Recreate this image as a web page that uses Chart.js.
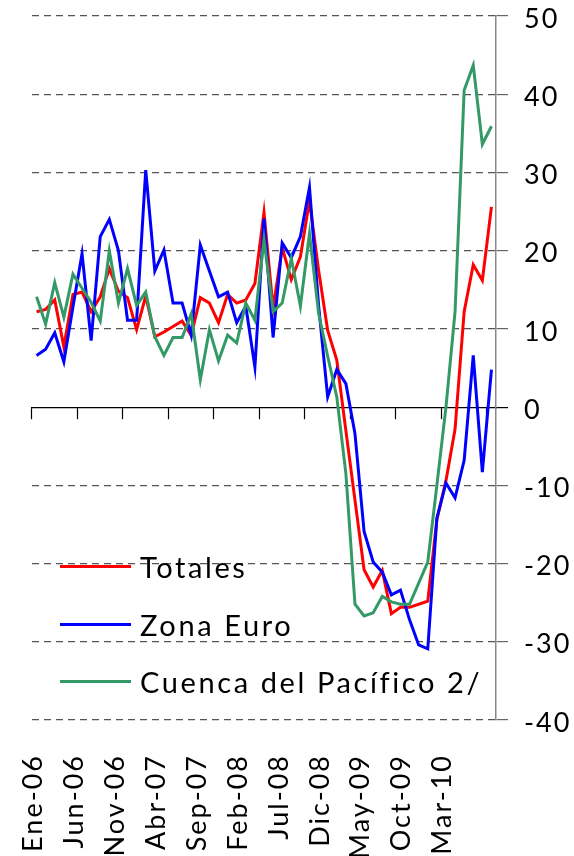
<!DOCTYPE html>
<html>
<head>
<meta charset="utf-8">
<script src="https://cdn.jsdelivr.net/npm/chart.js@4"></script>
<style>
    html, body { margin: 0; padding: 0; background: #fff; }
    #wrap { position: relative; width: 574px; height: 856px; }
    #legend { position: absolute; left: 60px; top: 538px; font-family: Lato, sans-serif; font-size: 29px; letter-spacing: 2.6px; color: #000; }
    .row { display: flex; align-items: center; height: 57.5px; white-space: nowrap; }
    .swatch { width: 71px; height: 3px; margin-right: 9px; }
</style>
</head>
<body>
<div id="wrap">
    <canvas id="chart" width="574" height="856"></canvas>
    <div id="legend"></div>
</div>
<script>
const months = [
    'Ene-06','Feb-06','Mar-06','Abr-06','May-06','Jun-06','Jul-06','Ago-06','Sep-06','Oct-06','Nov-06','Dic-06',
    'Ene-07','Feb-07','Mar-07','Abr-07','May-07','Jun-07','Jul-07','Ago-07','Sep-07','Oct-07','Nov-07','Dic-07',
    'Ene-08','Feb-08','Mar-08','Abr-08','May-08','Jun-08','Jul-08','Ago-08','Sep-08','Oct-08','Nov-08','Dic-08',
    'Ene-09','Feb-09','Mar-09','Abr-09','May-09','Jun-09','Jul-09','Ago-09','Sep-09','Oct-09','Nov-09','Dic-09',
    'Ene-10','Feb-10','Mar-10'
];
const tickLabels = ['Ene-06','Jun-06','Nov-06','Abr-07','Sep-07','Feb-08','Jul-08','Dic-08','May-09','Oct-09','Mar-10'];

const totales = [12.2, 12.5, 13.7, 7.7, 14.4, 14.7, 12.2, 14.1, 17.7, 14.8,
    14.0, 9.9, 14.2, 9.0, 9.6, 10.3, 11.0, 9.2, 14.0, 13.3,
    10.8, 14.4, 13.3, 13.7, 15.8, 24.9, 12.6, 20.4, 16.3, 19.2,
    26.4, 17.5, 9.8, 6.0, -3.0, -11.9, -20.8, -23.0, -20.9, -26.4,
    -25.6, -25.6, -25.2, -24.8, -14.4, -9.4, -2.8, 12.2, 18.2, 16.2, 25.6];
const zonaEuro = [6.6, 7.4, 9.5, 5.8, 12.8, 19.6, 8.5, 21.8, 24.0, 20.0,
    11.1, 11.1, 30.3, 17.4, 20.1, 13.3, 13.3, 9.2, 20.7, 17.4,
    14.1, 14.7, 10.8, 12.9, 5.1, 24.1, 8.9, 21.0, 19.1, 21.8,
    28.1, 13.0, 1.3, 4.8, 3.0, -3.4, -15.9, -19.8, -21.1, -24.0,
    -23.4, -27.2, -30.4, -30.9, -14.2, -9.7, -11.6, -6.8, 6.6, -8.3, 4.8];
const cuenca = [14.1, 10.6, 15.9, 11.5, 17.0, 15.2, 13.4, 11.0, 20.0, 13.3,
    17.7, 13.0, 14.7, 9.0, 6.6, 8.9, 8.9, 11.9, 3.5, 9.9,
    5.9, 9.2, 8.2, 13.3, 11.1, 21.4, 12.2, 13.3, 19.0, 12.9,
    22.2, 12.0, 6.5, 1.3, -8.5, -25.2, -26.7, -26.3, -24.2, -24.9,
    -25.2, -25.2, -22.5, -19.8, -10.0, 0.0, 12.2, 40.5, 43.7, 33.6, 35.9];

const series = [
    { label: 'Totales', data: totales, color: '#FF0000' },
    { label: 'Zona Euro', data: zonaEuro, color: '#0000FF' },
    { label: 'Cuenca del Pacífico 2/', data: cuenca, color: '#339966' }
];

const font = { family: 'Lato', size: 27 };

// excel spreads its axis text a little, canvas needs a hint
const spacedText = {
    id: 'spacedText',
    beforeDraw: chart => { chart.ctx.letterSpacing = '2px'; },
    afterDraw: chart => { chart.ctx.letterSpacing = '0px'; }
};

const ctx = document.getElementById('chart').getContext('2d');
new Chart(ctx, {
    type: 'line',
    data: {
        labels: months,
        // excel draws the last series on top
        datasets: series.map((s, i) => ({
            label: s.label, data: s.data, borderColor: s.color, backgroundColor: s.color,
            xAxisID: 'x', yAxisID: 'y', order: series.length - i
        }))
    },
    plugins: [spacedText],
    options: {
        responsive: false, animation: false,
        layout: { padding: { left: 32, top: 16 } },
        elements: { line: { borderWidth: 3, tension: 0 }, point: { radius: 0 } },
        plugins: { legend: { display: false }, tooltip: { enabled: false } },
        scales: {
            // axis line at zero, tick marks every 5 months
            x: {
                type: 'category', position: { y: 0 }, offset: true,
                ticks: { display: false },
                grid: {
                    offset: true, drawOnChartArea: false, tickLength: 11, tickWidth: 1.2,
                    tickColor: c => (c.index % 5 === 0 ? '#000' : 'transparent')
                },
                border: { color: '#000', width: 1.2 }
            },
            // the date labels are squeezed in the original, so they get their own axis
            xl: {
                type: 'linear', position: 'bottom', min: -0.025, max: 11.3,
                afterBuildTicks: s => { s.ticks = tickLabels.map((t, i) => ({ value: i })); },
                afterFit: s => { s.height = 136; s.paddingLeft = 0; s.paddingRight = 0; },
                ticks: {
                    autoSkip: false, maxRotation: 90, minRotation: 90, padding: 34,
                    color: '#000', font, callback: (v, i) => tickLabels[i]
                },
                grid: { display: false, drawTicks: false },
                border: { display: false }
            },
            y: {
                position: 'right', min: -40, max: 50,
                afterFit: s => { s.width = 78; s.paddingTop = 0; s.paddingBottom = 0; },
                ticks: { stepSize: 10, padding: 16, labelOffset: 3, color: '#000', font },
                grid: {
                    color: c => (c.tick && c.tick.value === 0 ? 'transparent' : '#555'),
                    lineWidth: 1.2, tickLength: 12,
                    tickColor: c => (c.tick && c.tick.value === 0 ? '#000' : '#666')
                },
                border: { color: '#888', width: 1.5, dash: [7, 5] }
            }
        }
    }
});

// legend sits inside the plot, lower left
document.getElementById('legend').innerHTML = series.map(s => `
    <div class="row"><span class="swatch" style="background:${s.color}"></span><span>${s.label}</span></div>
`).join('');
</script>
</body>
</html>
